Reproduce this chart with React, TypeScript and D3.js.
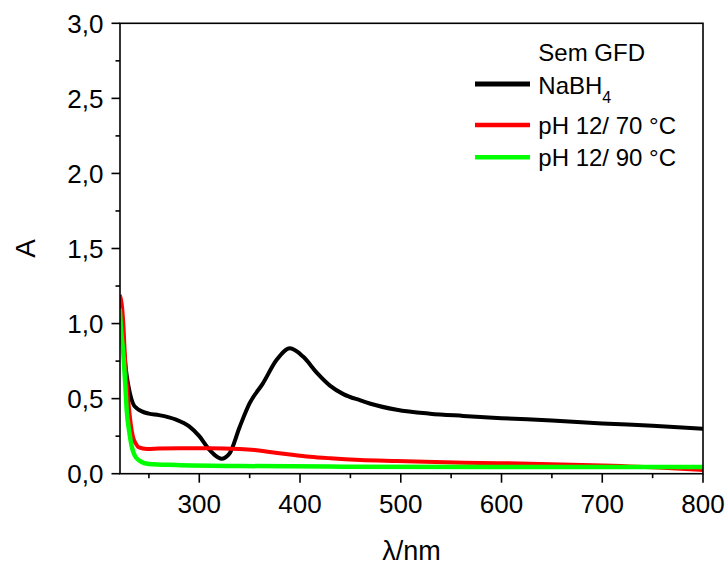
import React from "react";
import * as d3 from "d3";

const blackX = [221, 223, 225.6, 228, 231, 234, 238, 243, 250, 260, 277, 290, 300, 310, 316, 322, 330, 340, 350, 363, 377, 390, 403, 417, 430, 443, 460, 470, 496, 529, 562, 600, 650, 700, 750, 800];
const blackY = [1.17, 1.02, 0.8, 0.65, 0.54, 0.47, 0.435, 0.415, 0.4, 0.39, 0.36, 0.315, 0.25, 0.16, 0.12, 0.1, 0.135, 0.31, 0.47, 0.6, 0.76, 0.835, 0.78, 0.67, 0.585, 0.53, 0.488, 0.466, 0.426, 0.4, 0.385, 0.37, 0.355, 0.335, 0.32, 0.3];

const redX = [221, 223, 225, 226, 228, 230, 232, 234, 237, 240, 248, 260, 280, 310, 340, 355, 370, 390, 410, 430, 460, 496, 563, 628, 700, 760, 800];
const redY = [1.19, 1.13, 0.95, 0.8, 0.6, 0.45, 0.33, 0.25, 0.2, 0.175, 0.165, 0.168, 0.17, 0.17, 0.165, 0.158, 0.145, 0.128, 0.113, 0.103, 0.092, 0.085, 0.073, 0.067, 0.055, 0.04, 0.025];

const greenX = [221, 222.5, 224.6, 226.5, 228, 230.5, 233, 236, 240, 250, 277, 343, 443, 600, 800];
const greenY = [1.1, 0.95, 0.8, 0.6, 0.42, 0.28, 0.18, 0.12, 0.09, 0.065, 0.058, 0.051, 0.047, 0.045, 0.045];

const xTicks = [300, 400, 500, 600, 700, 800];
const xMinor = [250, 350, 450, 550, 650, 750];
const yTicks = [0, 0.5, 1.0, 1.5, 2.0, 2.5, 3.0];
const yMinor = [0.25, 0.75, 1.25, 1.75, 2.25, 2.75];

const legendLabels = ["NaBH", "pH 12/ 70 °C", "pH 12/ 90 °C"];
const colors = ["#000000", "#ff0000", "#00ff00"];

export default function App() {
  const left = 120, right = 703, top = 23.3, bottom = 473.7;
  const x = d3.scaleLinear().domain([221.3, 800]).range([left, right]);
  const y = d3.scaleLinear().domain([0, 3]).range([bottom, top]);
  const fmt = (v: number) => v.toFixed(1).replace(".", ",");
  const mk = (xs: number[], ys: number[]) =>
    d3.line<number>().x((_, i) => x(xs[i])).y((_, i) => y(ys[i])).curve(d3.curveMonotoneX)(xs.map((_, i) => i)) || "";
  const series = [
    { d: mk(blackX, blackY), c: colors[0], w: 4 },
    { d: mk(redX, redY), c: colors[1], w: 4 },
    { d: mk(greenX, greenY), c: colors[2], w: 4.5 },
  ];
  const font = "Arial, 'Liberation Sans', sans-serif";
  const legY = [84, 125, 157.3];
  const legTextY = [93.5, 133.5, 166];
  return (
    <svg width={728} height={565} style={{ position: "absolute", left: 0, top: 0 }} fontFamily={font}>
      <rect x={0} y={0} width={728} height={565} fill="#fff" />
      <defs>
        <clipPath id="plot">
          <rect x={left} y={top} width={right - left} height={bottom - top} />
        </clipPath>
      </defs>
      <g clipPath="url(#plot)">
        {series.map((s, i) => (
          <path key={i} d={s.d} fill="none" stroke={s.c} strokeWidth={s.w} strokeLinejoin="round" />
        ))}
      </g>
      <rect x={left} y={top} width={right - left} height={bottom - top} fill="none" stroke="#000" strokeWidth={1.6} />
      {xTicks.map((t) => (
        <g key={t}>
          <line x1={x(t)} x2={x(t)} y1={bottom} y2={bottom + 9} stroke="#000" strokeWidth={1.6} />
          <text x={x(t)} y={512.7} fontSize={26} textAnchor="middle">{t}</text>
        </g>
      ))}
      {xMinor.map((t) => (
        <line key={t} x1={x(t)} x2={x(t)} y1={bottom} y2={bottom + 4.5} stroke="#000" strokeWidth={1.6} />
      ))}
      {yTicks.map((t) => (
        <g key={t}>
          <line x1={left - 8.5} x2={left} y1={y(t)} y2={y(t)} stroke="#000" strokeWidth={1.6} />
          <text x={103.5} y={y(t) + 9.3} fontSize={26} textAnchor="end">{fmt(t)}</text>
        </g>
      ))}
      {yMinor.map((t) => (
        <line key={t} x1={left - 4.5} x2={left} y1={y(t)} y2={y(t)} stroke="#000" strokeWidth={1.6} />
      ))}
      <text transform={`translate(35,${(top + bottom) / 2}) rotate(-90)`} fontSize={28} textAnchor="middle">A</text>
      <text x={(left + right) / 2} y={560} fontSize={27} textAnchor="middle">λ/nm</text>
      <text x={538.3} y={60.7} fontSize={24}>Sem GFD</text>
      {legendLabels.map((l, i) => (
        <g key={l}>
          <line x1={475} x2={530} y1={legY[i]} y2={legY[i]} stroke={colors[i]} strokeWidth={i === 0 ? 5 : 4.5} />
          <text x={538.3} y={legTextY[i]} fontSize={24}>
            {l}
            {i === 0 ? <tspan fontSize={16} dy={9}>4</tspan> : null}
          </text>
        </g>
      ))}
    </svg>
  );
}
